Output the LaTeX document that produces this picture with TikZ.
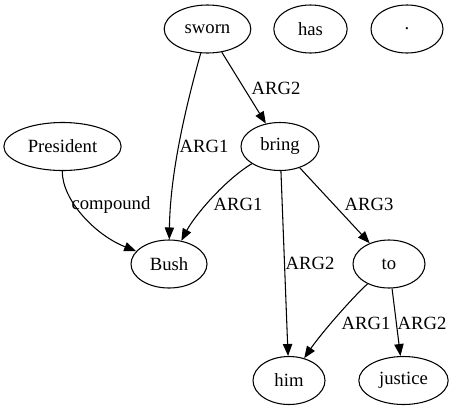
\documentclass[tikz,border=0pt]{standalone}
\usepackage{fontspec}
\setmainfont{Liberation Serif}
\usetikzlibrary{shapes.geometric,arrows.meta}
\begin{document}
\begin{tikzpicture}[x=0.75pt,y=-0.75pt,
  nd/.style={draw,ellipse,inner sep=0pt,minimum height=36pt,font=\fontsize{14pt}{16pt}\selectfont},
  lbl/.style={inner sep=0pt,font=\fontsize{14pt}{16pt}\selectfont},
  edge/.style={draw,line width=0.8pt,-{Triangle[length=9pt,width=7pt]}},
  every path/.style={line width=0.8pt}]
\useasboundingbox (0,0) rectangle (453,411);
\node[nd,minimum width=65pt] (sworn) at (207.5,29) {sworn};
\node[nd,minimum width=55pt] (has) at (310.5,29) {has};
\node[nd,minimum width=54pt] (dot) at (407,29) {.};
\node[nd,minimum width=88pt] (president) at (62.5,146.5) {President};
\node[nd,minimum width=58.5pt] (bring) at (280,146.5) {bring};
\node[nd,minimum width=57pt] (bush) at (169,264) {Bush};
\node[nd,minimum width=54pt] (to) at (389,264) {to};
\node[nd,minimum width=54pt] (him) at (289,380.5) {him};
\node[nd,minimum width=67pt] (justice) at (403.5,380.5) {justice};

\path[edge] (sworn) .. controls (182,120) and (170,180) .. (bush);
\path[edge] (sworn) -- (bring);
\path[edge] (president) .. controls (62,200) and (95,235) .. (bush);
\path[edge] (bring) .. controls (225,180) and (195,215) .. (bush);
\path[edge] (bring) -- (him);
\path[edge] (bring) -- (to);
\path[edge] (to) .. controls (350,300) and (320,335) .. (him);
\path[edge] (to) -- (justice);

\node[lbl] (l1) at (204,146) {ARG1};
\node[lbl] (l2) at (276,88) {ARG2};
\node[lbl] (l3) at (111,205) {compound};
\node[lbl] (l4) at (238,204) {ARG1};
\node[lbl] (l5) at (310,263) {ARG2};
\node[lbl] (l6) at (369,204) {ARG3};
\node[lbl] (l7) at (366,323) {ARG1};
\node[lbl] (l8) at (422,323) {ARG2};
\end{tikzpicture}
\end{document}
